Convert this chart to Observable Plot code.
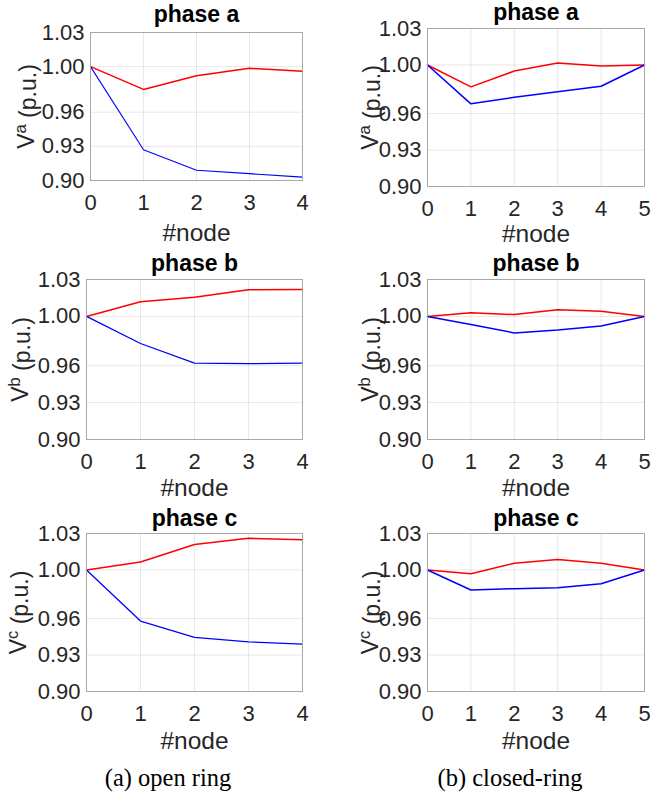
<!DOCTYPE html>
<html>
<head>
<meta charset="utf-8">
<script src="https://cdn.jsdelivr.net/npm/d3@7"></script>
<script src="https://cdn.jsdelivr.net/npm/@observablehq/plot@0.6"></script>
<style>
  html, body { margin: 0; padding: 0; background: #fff; }
  #root { position: relative; width: 668px; height: 795px; background: #fff; }
  #root svg { position: absolute; }
  .caption { position: absolute; font-family: "Liberation Serif", "Times New Roman", serif; font-size: 24.5px; color: #000; white-space: nowrap; transform: translateX(-50%); line-height: 28px; }
</style>
</head>
<body>
<div id="root"></div>
<script>
// ---- data ----
const nodesOpen = [0, 1, 2, 3, 4];
const nodesClosed = [0, 1, 2, 3, 4, 5];
const yTicks = [0.90, 0.93, 0.96, 1.00, 1.03];
const phaseTitles = ["phase a", "phase b", "phase c"];
const phaseLetters = ["a", "b", "c"];
const xLabel = "#node";
const captions = ["(a) open ring", "(b) closed-ring"];

// open ring (red series, blue series)
const openA_red  = [1.000, 0.980, 0.992, 0.9985, 0.996];
const openA_blue = [1.000, 0.927, 0.909, 0.906, 0.903];
const openB_red  = [1.000, 1.012, 1.0156, 1.0216, 1.0219];
const openB_blue = [1.000, 0.978, 0.962, 0.9616, 0.962];
const openC_red  = [1.000, 1.0065, 1.021, 1.026, 1.0248];
const openC_blue = [1.000, 0.958, 0.9446, 0.9408, 0.939];

// closed ring
const closedA_red  = [1.000, 0.982, 0.995, 1.0017, 0.9992, 1.000];
const closedA_blue = [1.000, 0.968, 0.9734, 0.978, 0.9825, 1.000];
const closedB_red  = [1.000, 1.003, 1.0015, 1.0055, 1.0042, 1.000];
const closedB_blue = [1.000, 0.9934, 0.9866, 0.989, 0.9923, 1.000];
const closedC_red  = [1.000, 0.9968, 1.0056, 1.0086, 1.0056, 1.000];
const closedC_blue = [1.000, 0.9835, 0.9846, 0.9854, 0.9887, 1.000];

// ---- layout ----
const panels = [
  {left: 0,   top: 0,   ml: 90, mr: 32, mt: 32, mb: 70, nodes: nodesOpen,   red: openA_red,   blue: openA_blue,   p: 0, blueW: 1.1, ylab: 57, tdy: -11, xlab: 240},
  {left: 334, top: 0,   ml: 93, mr: 24, mt: 28, mb: 64, nodes: nodesClosed, red: closedA_red, blue: closedA_blue, p: 0, blueW: 1.5, ylab: 50, tdy: -8.5, xlab: 241},
  {left: 0,   top: 250, ml: 86, mr: 32, mt: 29, mb: 61, nodes: nodesOpen,   red: openB_red,   blue: openB_blue,   p: 1, blueW: 1.3, ylab: 59, tdy: -8.5, xlab: 245},
  {left: 334, top: 250, ml: 93, mr: 24, mt: 29, mb: 61, nodes: nodesClosed, red: closedB_red, blue: closedB_blue, p: 1, blueW: 1.5, ylab: 50, tdy: -8.5, xlab: 245},
  {left: 0,   top: 500, ml: 86, mr: 32, mt: 33, mb: 59, nodes: nodesOpen,   red: openC_red,   blue: openC_blue,   p: 2, blueW: 1.3, ylab: 61, tdy: -8, xlab: 248},
  {left: 334, top: 500, ml: 93, mr: 24, mt: 33, mb: 59, nodes: nodesClosed, red: closedC_red, blue: closedC_blue, p: 2, blueW: 1.5, ylab: 50, tdy: -8, xlab: 248}
];

const root = document.getElementById("root");
const sans = "'Liberation Sans', Arial, Helvetica, sans-serif";
const tickSize = 22;

panels.forEach(cfg => {
  const H = 250, W = 334;
  const xlabDy = cfg.xlab - (H - cfg.mb);
  const ylabText = "V" + phaseLetters[cfg.p] + " (p.u.)";
  const svg = Plot.plot({
    width: W, height: H,
    marginLeft: cfg.ml, marginRight: cfg.mr, marginTop: cfg.mt, marginBottom: cfg.mb,
    x: {domain: [0, cfg.nodes[cfg.nodes.length - 1]]},
    y: {domain: [yTicks[0], yTicks[yTicks.length - 1]]},
    style: {fontFamily: sans, fontSize: tickSize + "px", color: "#262626", background: "transparent", overflow: "visible"},
    marks: [
      Plot.gridX(cfg.nodes, {stroke: "#000", strokeOpacity: 0.09}),
      Plot.gridY(yTicks, {stroke: "#000", strokeOpacity: 0.09}),
      Plot.line(cfg.red, {x: (d, i) => cfg.nodes[i], y: d => d, stroke: "#ff0000", strokeWidth: 1.5}),
      Plot.line(cfg.blue, {x: (d, i) => cfg.nodes[i], y: d => d, stroke: "#0000ff", strokeWidth: cfg.blueW}),
      Plot.frame({stroke: "#a8a8a8", strokeWidth: 1}),
      Plot.axisX(cfg.nodes, {tickSize: 0, tickPadding: 14, label: null, fontSize: tickSize, fill: "#262626"}),
      Plot.axisY(yTicks, {tickSize: 0, tickPadding: 6, tickFormat: d3.format(".2f"), label: null, fontSize: tickSize, fill: "#262626"}),
      Plot.text([phaseTitles[cfg.p]], {text: d => d, frameAnchor: "top", textAnchor: "middle", dy: cfg.tdy, lineAnchor: "bottom", fontWeight: "bold", fontSize: 23, fill: "#000"}),
      Plot.text([xLabel], {text: d => d, frameAnchor: "bottom", textAnchor: "middle", dy: xlabDy, lineAnchor: "bottom", fontSize: 24.5, fill: "#262626"}),
      Plot.text([ylabText], {text: d => d, frameAnchor: "left", textAnchor: "middle", dx: -cfg.ylab, rotate: -90, lineAnchor: "bottom", fontSize: 23, fill: "#262626"})
    ]
  });
  svg.style.left = cfg.left + "px";
  svg.style.top = cfg.top + "px";
  // enforce tick-label size
  d3.select(svg).selectAll('[aria-label="x-axis tick label"], [aria-label="y-axis tick label"]')
    .attr("font-size", tickSize).selectAll("text").attr("font-size", tickSize);
  // superscript the phase letter in the y label
  d3.select(svg).selectAll("text").filter(function () { return this.textContent === ylabText; })
    .each(function () {
      const t = d3.select(this);
      t.text(null);
      t.append("tspan").text("V");
      t.append("tspan").attr("dy", "-0.45em").attr("font-size", "0.72em").text(phaseLetters[cfg.p]);
      t.append("tspan").attr("dy", "0.45em").text(" (p.u.)");
    });
  root.appendChild(svg);
});

captions.forEach((c, i) => {
  const div = document.createElement("div");
  div.className = "caption";
  div.textContent = c;
  div.style.left = (i === 0 ? 168 : 510) + "px";
  div.style.top = "764px";
  root.appendChild(div);
});
</script>
</body>
</html>
